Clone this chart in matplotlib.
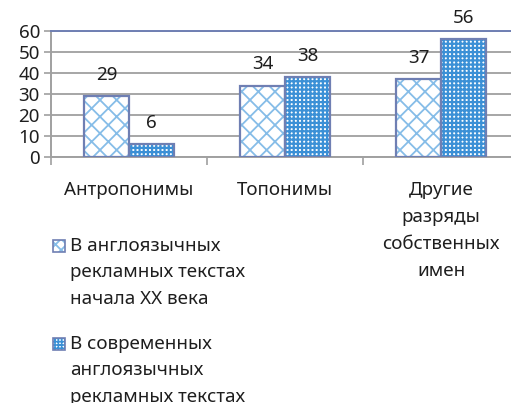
import matplotlib
matplotlib.use('Agg')
import matplotlib.pyplot as plt
from matplotlib.patches import Rectangle
import numpy as np

plt.rcParams['font.family'] = ['Noto Sans', 'DejaVu Sans']
plt.rcParams['hatch.linewidth'] = 1.3

# данные
categories = ['Антропонимы', 'Топонимы', 'Другие\nразряды\nсобственных\nимен']
old_vals = [29, 34, 37]
new_vals = [6, 38, 56]
series_names = ['В англоязычных\nрекламных текстах\nначала XX века',
                'В современных\nанглоязычных\nрекламных текстах']
yticks = [0, 10, 20, 30, 40, 50, 60]

edge = '#6f7fb3'
hatch1 = '#86bde8'
hatch2 = '#3b90d6'
fill2 = 'white'
txt = '#1e1e1e'
fs = 13.5

fig = plt.figure(figsize=(5.11, 4.03), dpi=100)
ax = fig.add_axes([51 / 511, 1 - 157 / 403, 468 / 511, 126 / 403])

x = np.arange(len(categories))
w = 0.29

# заливка со штриховкой
b1 = ax.bar(x - w / 2, old_vals, w, color='white', hatch='xx', edgecolor=hatch1, linewidth=0, zorder=3)
b2 = ax.bar(x + w / 2, new_vals, w, color=fill2, hatch='++++', edgecolor=hatch2, linewidth=0, zorder=3)
for p in b2:
    if hasattr(p, 'set_hatch_linewidth'):
        p.set_hatch_linewidth(1.6)
# контуры
ax.bar(x - w / 2, old_vals, w, fill=False, edgecolor=edge, linewidth=1.6, zorder=4)
ax.bar(x + w / 2, new_vals, w, fill=False, edgecolor=edge, linewidth=1.6, zorder=4)

ax.bar_label(b1, padding=9, fontsize=fs, color=txt)
ax.bar_label(b2, padding=9, fontsize=fs, color=txt)

ax.set_xlim(-0.5, 2.5)
ax.set_ylim(0, 60)
ax.set_yticks(yticks)
ax.tick_params(axis='y', labelsize=fs, labelcolor=txt, length=5, width=1.2, color='#a0a0a0', pad=3)
ax.grid(axis='y', color='#a6a6a6', linewidth=1.4, zorder=0)

ax.set_xticks(x)
ax.set_xticklabels(categories, fontsize=fs, color=txt, va='top', linespacing=1.65)
ax.set_xticks([-0.5, 0.5, 1.5], minor=True)
ax.tick_params(axis='x', which='major', length=0, pad=17)
ax.tick_params(axis='x', which='minor', length=6, width=1.2, color='#a0a0a0')

for s in ['left', 'bottom']:
    ax.spines[s].set_color('#a0a0a0')
    ax.spines[s].set_linewidth(1.4)
ax.spines['top'].set_color('#6f7fb3')
ax.spines['top'].set_linewidth(1.4)
ax.spines['right'].set_visible(False)

# легенда (вручную: маркер у первой строки)
legend_rows = [(246, 'white', hatch1, 'xxx', 1.3), (344, fill2, hatch2, '+++++', 1.2)]
for (yc, fc, hc, ht, hl), name in zip(legend_rows, series_names):
    sq = Rectangle((53 / 511, 1 - (yc + 6) / 403), 12 / 511, 12 / 403, transform=fig.transFigure,
                   facecolor=fc, hatch=ht, edgecolor=hc, linewidth=0)
    if hasattr(sq, 'set_hatch_linewidth'):
        sq.set_hatch_linewidth(hl)
    fig.patches.append(sq)
    fig.patches.append(Rectangle((53 / 511, 1 - (yc + 6) / 403), 12 / 511, 12 / 403,
                                 transform=fig.transFigure, fill=False, edgecolor=edge, linewidth=1.2))
    fig.text(70 / 511, 1 - (yc - 9) / 403, name, fontsize=fs, color=txt, va='top', ha='left',
             linespacing=1.6)

fig.savefig('out.png', dpi=100)
